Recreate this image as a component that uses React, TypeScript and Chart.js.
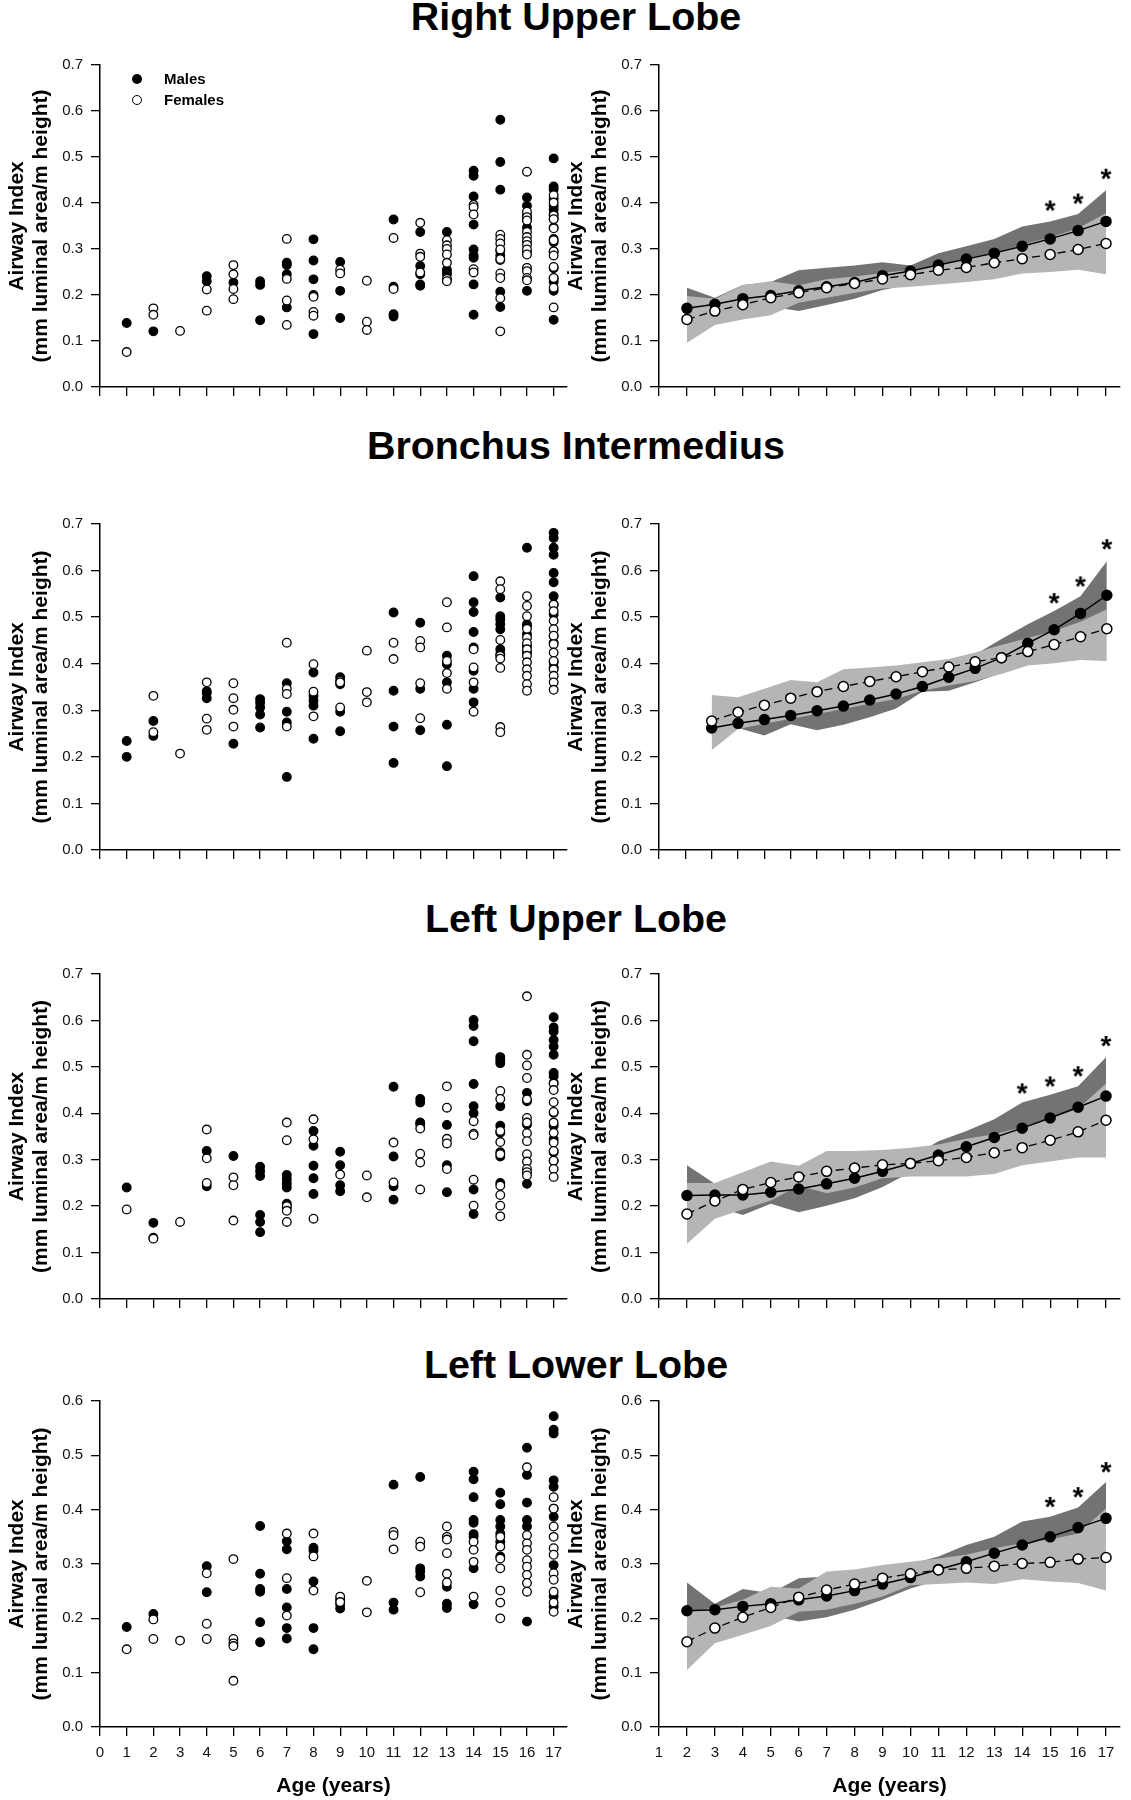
import React, { useEffect, useRef } from 'react';
import { Chart, registerables } from 'chart.js';

Chart.register(...registerables);

const FONT = '"Liberation Sans", Arial, Helvetica, sans-serif';
const DARK = '#737373';
const LIGHT = '#b5b5b5';

// ---------- categories ----------
const SCATTER_AGES = [1, 2, 3, 4, 5, 6, 7, 8, 9, 10, 11, 12, 13, 14, 15, 16, 17];
const TREND_AGES = [2, 3, 4, 5, 6, 7, 8, 9, 10, 11, 12, 13, 14, 15, 16, 17];

// ---------- Right Upper Lobe : individual values per age (1..17) ----------
const RUL_M: number[][] = [
  [0.139], [0.121], [], [0.241, 0.23], [0.227], [0.23, 0.222, 0.145],
  [0.27, 0.265, 0.245, 0.173], [0.321, 0.275, 0.234, 0.2, 0.115], [0.272, 0.209, 0.15], [],
  [0.364, 0.218, 0.158, 0.153], [0.337, 0.263, 0.245, 0.223, 0.22], [0.337, 0.255, 0.248, 0.245, 0.232],
  [0.47, 0.459, 0.414, 0.353, 0.299, 0.286, 0.281, 0.223, 0.157],
  [0.581, 0.489, 0.429, 0.296, 0.286, 0.276, 0.207, 0.174],
  [0.412, 0.394, 0.373, 0.365, 0.347, 0.294, 0.209],
  [0.497, 0.436, 0.43, 0.409, 0.394, 0.386, 0.376, 0.365, 0.347, 0.322, 0.315, 0.294, 0.258, 0.236, 0.229, 0.209, 0.146],
];
const RUL_F: number[][] = [
  [0.076], [0.171, 0.157], [0.122], [0.212, 0.166], [0.265, 0.245, 0.213, 0.191], [],
  [0.322, 0.235, 0.188, 0.135], [0.196, 0.163, 0.155], [0.255, 0.247], [0.231, 0.142, 0.124],
  [0.324, 0.213], [0.357, 0.29, 0.283, 0.249], [0.319, 0.308, 0.3, 0.288, 0.27, 0.235, 0.23],
  [0.396, 0.391, 0.375, 0.256, 0.249],
  [0.331, 0.322, 0.312, 0.299, 0.278, 0.247, 0.237, 0.193, 0.121],
  [0.468, 0.381, 0.369, 0.362, 0.337, 0.326, 0.317, 0.309, 0.299, 0.288, 0.259, 0.252, 0.237, 0.232],
  [0.417, 0.401, 0.373, 0.365, 0.345, 0.319, 0.295, 0.286, 0.261, 0.237, 0.216, 0.173],
];
// ---------- Right Upper Lobe : fitted means and ranges (ages 2..17) ----------
const RUL_M_MEAN = [0.171, 0.18, 0.192, 0.199, 0.209, 0.218, 0.227, 0.242, 0.252, 0.265, 0.278, 0.291, 0.306, 0.322, 0.34, 0.36];
const RUL_F_MEAN = [0.147, 0.165, 0.179, 0.194, 0.205, 0.216, 0.225, 0.235, 0.244, 0.254, 0.26, 0.27, 0.279, 0.288, 0.299, 0.312];
const RUL_M_HI = [0.216, 0.194, 0.222, 0.228, 0.254, 0.259, 0.264, 0.271, 0.264, 0.291, 0.306, 0.322, 0.349, 0.36, 0.376, 0.428];
const RUL_M_LO = [0.14, 0.155, 0.165, 0.175, 0.165, 0.178, 0.192, 0.211, 0.223, 0.234, 0.245, 0.255, 0.273, 0.284, 0.306, 0.32];
const RUL_F_HI = [0.198, 0.192, 0.221, 0.23, 0.221, 0.234, 0.24, 0.248, 0.255, 0.266, 0.278, 0.29, 0.31, 0.325, 0.345, 0.378];
const RUL_F_LO = [0.096, 0.135, 0.147, 0.156, 0.183, 0.194, 0.205, 0.214, 0.218, 0.223, 0.228, 0.234, 0.247, 0.25, 0.255, 0.245];
const RUL_STAR_AGES = [15, 16, 17];
const RUL_STAR_Y = [0.399, 0.414, 0.468];

// ---------- Bronchus Intermedius ----------
const BI_M: number[][] = [
  [0.234, 0.2], [0.277, 0.245], [], [0.341, 0.337, 0.326], [0.228], [0.324, 0.316, 0.306, 0.291, 0.263],
  [0.358, 0.297, 0.274, 0.157], [0.381, 0.331, 0.321, 0.31, 0.239], [0.371, 0.356, 0.297, 0.255], [],
  [0.51, 0.342, 0.265, 0.187], [0.488, 0.346, 0.257], [0.417, 0.399, 0.36, 0.269, 0.18],
  [0.588, 0.532, 0.511, 0.468, 0.435, 0.385, 0.346, 0.317],
  [0.542, 0.502, 0.495, 0.485, 0.474, 0.431, 0.421],
  [0.649, 0.485, 0.481, 0.463, 0.438, 0.424],
  [0.681, 0.67, 0.649, 0.634, 0.595, 0.575, 0.545, 0.527, 0.506, 0.46, 0.445, 0.403, 0.392],
];
const BI_F: number[][] = [
  [], [0.331, 0.253], [0.207], [0.36, 0.282, 0.258], [0.358, 0.326, 0.301, 0.265], [],
  [0.445, 0.346, 0.335, 0.265], [0.399, 0.34, 0.287], [0.363, 0.36, 0.306], [0.428, 0.339, 0.317],
  [0.445, 0.41], [0.449, 0.435, 0.358, 0.283], [0.532, 0.478, 0.406, 0.38, 0.346],
  [0.431, 0.392, 0.36, 0.297],
  [0.577, 0.56, 0.451, 0.417, 0.411, 0.391, 0.264, 0.253],
  [0.545, 0.524, 0.502, 0.475, 0.456, 0.444, 0.431, 0.417, 0.403, 0.388, 0.374, 0.356, 0.342],
  [0.527, 0.513, 0.492, 0.474, 0.46, 0.442, 0.424, 0.406, 0.388, 0.374, 0.36, 0.344],
];
const BI_M_MEAN = [0.262, 0.272, 0.28, 0.289, 0.299, 0.309, 0.322, 0.335, 0.351, 0.371, 0.39, 0.413, 0.444, 0.473, 0.508, 0.547];
const BI_F_MEAN = [0.277, 0.296, 0.311, 0.326, 0.34, 0.351, 0.362, 0.372, 0.383, 0.393, 0.404, 0.413, 0.426, 0.441, 0.458, 0.475];
const BI_M_HI = [0.3, 0.29, 0.3, 0.31, 0.325, 0.335, 0.345, 0.36, 0.375, 0.395, 0.42, 0.453, 0.485, 0.513, 0.545, 0.62];
const BI_M_LO = [0.24, 0.262, 0.246, 0.27, 0.257, 0.269, 0.285, 0.304, 0.34, 0.342, 0.36, 0.38, 0.41, 0.44, 0.47, 0.49];
const BI_F_HI = [0.333, 0.328, 0.346, 0.365, 0.36, 0.388, 0.392, 0.396, 0.403, 0.41, 0.424, 0.44, 0.455, 0.47, 0.49, 0.517];
const BI_F_LO = [0.214, 0.26, 0.271, 0.282, 0.292, 0.303, 0.314, 0.324, 0.342, 0.353, 0.363, 0.378, 0.396, 0.401, 0.408, 0.406];
const BI_STAR_AGES = [15, 16, 17];
const BI_STAR_Y = [0.545, 0.581, 0.661];

// ---------- Left Upper Lobe ----------
const LUL_M: number[][] = [
  [0.24], [0.164], [], [0.319, 0.243], [0.308], [0.285, 0.275, 0.265, 0.181, 0.166, 0.144],
  [0.267, 0.258, 0.249, 0.24, 0.205, 0.197], [0.362, 0.33, 0.287, 0.26, 0.226], [0.317, 0.288, 0.245, 0.232], [],
  [0.457, 0.307, 0.243, 0.214], [0.431, 0.423, 0.38, 0.376], [0.375, 0.288, 0.23],
  [0.601, 0.588, 0.555, 0.463, 0.415, 0.4, 0.236, 0.183],
  [0.521, 0.514, 0.508, 0.415, 0.373, 0.358, 0.316, 0.307, 0.25],
  [0.444, 0.426, 0.376, 0.248],
  [0.607, 0.585, 0.576, 0.558, 0.544, 0.526, 0.487, 0.48, 0.465, 0.401, 0.373, 0.344, 0.316, 0.298],
];
const LUL_F: number[][] = [
  [0.193], [0.132, 0.13], [0.166], [0.365, 0.303, 0.25], [0.262, 0.245, 0.169], [],
  [0.38, 0.342, 0.2, 0.19, 0.166], [0.387, 0.344, 0.173], [0.268], [0.266, 0.219],
  [0.337, 0.251], [0.367, 0.313, 0.294, 0.236], [0.458, 0.412, 0.345, 0.335, 0.28],
  [0.383, 0.356, 0.353, 0.257, 0.201],
  [0.448, 0.431, 0.362, 0.338, 0.312, 0.244, 0.224, 0.201, 0.178],
  [0.652, 0.526, 0.503, 0.476, 0.43, 0.39, 0.38, 0.357, 0.34, 0.312, 0.296, 0.28, 0.273, 0.266],
  [0.464, 0.45, 0.424, 0.403, 0.38, 0.358, 0.337, 0.319, 0.298, 0.28, 0.263],
];
const LUL_M_MEAN = [0.223, 0.224, 0.224, 0.23, 0.237, 0.248, 0.26, 0.275, 0.292, 0.31, 0.328, 0.348, 0.368, 0.39, 0.413, 0.437];
const LUL_F_MEAN = [0.183, 0.211, 0.236, 0.251, 0.263, 0.275, 0.282, 0.289, 0.292, 0.298, 0.305, 0.315, 0.326, 0.342, 0.36, 0.385];
const LUL_M_HI = [0.288, 0.248, 0.25, 0.26, 0.265, 0.27, 0.28, 0.29, 0.305, 0.34, 0.362, 0.387, 0.423, 0.44, 0.458, 0.521];
const LUL_M_LO = [0.2, 0.2, 0.181, 0.205, 0.187, 0.201, 0.217, 0.241, 0.273, 0.29, 0.31, 0.325, 0.34, 0.36, 0.37, 0.38];
const LUL_F_HI = [0.25, 0.25, 0.273, 0.296, 0.287, 0.319, 0.319, 0.321, 0.326, 0.333, 0.345, 0.355, 0.37, 0.39, 0.41, 0.464];
const LUL_F_LO = [0.119, 0.173, 0.193, 0.212, 0.244, 0.228, 0.24, 0.26, 0.264, 0.264, 0.264, 0.269, 0.288, 0.296, 0.305, 0.305];
const LUL_STAR_AGES = [14, 15, 16, 17];
const LUL_STAR_Y = [0.458, 0.473, 0.495, 0.56];

// ---------- Left Lower Lobe ----------
const LLL_M: number[][] = [
  [0.184], [0.208], [], [0.296, 0.248], [], [0.37, 0.282, 0.254, 0.249, 0.193, 0.156],
  [0.342, 0.327, 0.254, 0.22, 0.182, 0.163], [0.33, 0.325, 0.268, 0.182, 0.143], [0.234, 0.226, 0.218], [],
  [0.446, 0.229, 0.216], [0.46, 0.292, 0.286, 0.277], [0.258, 0.227, 0.219],
  [0.47, 0.456, 0.423, 0.381, 0.376, 0.355, 0.35, 0.292, 0.226],
  [0.431, 0.41, 0.381, 0.369, 0.356, 0.341, 0.332, 0.314],
  [0.514, 0.464, 0.413, 0.381, 0.369, 0.194],
  [0.572, 0.547, 0.54, 0.454, 0.442, 0.402, 0.387, 0.298, 0.24, 0.222],
];
const LLL_F: number[][] = [
  [0.143], [0.198, 0.162], [0.159], [0.283, 0.19, 0.162], [0.309, 0.162, 0.154, 0.149, 0.085], [],
  [0.356, 0.274, 0.205], [0.356, 0.314, 0.251], [0.24, 0.23], [0.269, 0.211],
  [0.359, 0.353, 0.327], [0.341, 0.332, 0.248], [0.369, 0.35, 0.345, 0.32, 0.282, 0.266],
  [0.341, 0.326, 0.304, 0.24],
  [0.35, 0.332, 0.31, 0.292, 0.251, 0.229, 0.2],
  [0.478, 0.353, 0.338, 0.326, 0.307, 0.295, 0.28, 0.265, 0.249],
  [0.423, 0.402, 0.369, 0.35, 0.329, 0.317, 0.283, 0.271, 0.249, 0.229, 0.212],
];
const LLL_M_MEAN = [0.214, 0.216, 0.222, 0.227, 0.234, 0.241, 0.251, 0.263, 0.275, 0.29, 0.304, 0.32, 0.335, 0.35, 0.367, 0.384];
const LLL_F_MEAN = [0.157, 0.182, 0.202, 0.22, 0.239, 0.252, 0.263, 0.274, 0.282, 0.289, 0.292, 0.296, 0.301, 0.303, 0.309, 0.312];
const LLL_M_HI = [0.266, 0.227, 0.254, 0.246, 0.274, 0.277, 0.28, 0.29, 0.3, 0.314, 0.335, 0.35, 0.378, 0.387, 0.404, 0.451];
const LLL_M_LO = [0.17, 0.2, 0.19, 0.205, 0.194, 0.202, 0.216, 0.234, 0.255, 0.27, 0.28, 0.295, 0.305, 0.32, 0.33, 0.345];
const LLL_F_HI = [0.212, 0.22, 0.234, 0.258, 0.255, 0.286, 0.29, 0.298, 0.304, 0.31, 0.317, 0.329, 0.338, 0.345, 0.356, 0.402];
const LLL_F_LO = [0.105, 0.154, 0.17, 0.186, 0.212, 0.216, 0.227, 0.24, 0.261, 0.263, 0.266, 0.263, 0.272, 0.268, 0.265, 0.251];
const LLL_STAR_AGES = [15, 16, 17];
const LLL_STAR_Y = [0.418, 0.436, 0.482];

// ---------- helpers ----------
const scatterPoints = (groups: number[][]) =>
  groups.flatMap((vals, i) => vals.map((v) => ({ x: SCATTER_AGES[i], y: v })));
const xy = (xs: number[], ys: number[]) => xs.map((x, i) => ({ x, y: ys[i] }));

function makeStarImage() {
  const c = document.createElement('canvas');
  c.width = 28;
  c.height = 28;
  const ctx = c.getContext('2d')!;
  ctx.fillStyle = '#000';
  ctx.font = `bold 28px ${FONT}`;
  ctx.textAlign = 'center';
  ctx.textBaseline = 'alphabetic';
  ctx.fillText('*', 14, 14 + 0.57 * 28);
  return c;
}

function xScale(min: number, showLabels: boolean) {
  return {
    type: 'linear',
    min,
    max: 17.5,
    ticks: {
      display: showLabels,
      stepSize: 1,
      includeBounds: false,
      autoSkip: false,
      maxRotation: 0,
      color: '#111',
      padding: 8,
      font: { family: FONT, size: 15 },
    },
    grid: { drawOnChartArea: false, drawTicks: true, tickLength: 9, color: '#000', lineWidth: 1.3 },
    border: { display: true, color: '#000', width: 1.5 },
    title: {
      display: showLabels,
      text: 'Age (years)',
      color: '#000',
      font: { family: FONT, size: 21, weight: 'bold', lineHeight: 1.15 },
      padding: { top: 0, bottom: 2 },
    },
    afterFit: (s: any) => {
      s.height = showLabels ? 73 : 15;
    },
  };
}

function yScale(max: number) {
  return {
    type: 'linear',
    min: 0,
    max,
    ticks: {
      stepSize: 0.1,
      color: '#111',
      padding: 8,
      font: { family: FONT, size: 15 },
      callback: (v: any) => Number(v).toFixed(1),
    },
    grid: { drawOnChartArea: false, drawTicks: true, tickLength: 9, color: '#000', lineWidth: 1.3 },
    border: { display: true, color: '#000', width: 1.5 },
    title: {
      display: true,
      text: ['Airway Index', '(mm luminal area/m height)'],
      color: '#000',
      font: { family: FONT, size: 21, weight: 'bold', lineHeight: 1.15 },
      padding: { top: 5, bottom: 0 },
    },
    afterFit: (s: any) => {
      s.width = 100;
    },
  };
}

function baseOptions(xMin: number, showX: boolean, yMax: number, padRight: number) {
  return {
    responsive: false,
    maintainAspectRatio: false,
    animation: false,
    devicePixelRatio: 1,
    events: [],
    layout: { padding: { top: 20, right: padRight, bottom: 0, left: 0 } },
    plugins: { legend: { display: false }, tooltip: { enabled: false } },
    scales: { x: xScale(xMin, showX), y: yScale(yMax) },
  };
}

function scatterConfig(m: number[][], f: number[][], yMax: number, showX: boolean) {
  return {
    type: 'scatter',
    data: {
      datasets: [
        {
          label: 'Females',
          data: scatterPoints(f),
          pointRadius: 4.3,
          pointBorderWidth: 1.3,
          pointBackgroundColor: '#fff',
          pointBorderColor: '#000',
          order: 1,
        },
        {
          label: 'Males',
          data: scatterPoints(m),
          pointRadius: 4.3,
          pointBorderWidth: 1.3,
          pointBackgroundColor: '#000',
          pointBorderColor: '#000',
          order: 2,
        },
      ],
    },
    options: baseOptions(0, showX, yMax, 13),
  };
}

function trendConfig(
  xMin: number,
  mMean: number[],
  fMean: number[],
  mHi: number[],
  mLo: number[],
  fHi: number[],
  fLo: number[],
  starAges: number[],
  starY: number[],
  yMax: number,
  showX: boolean,
) {
  const band = (data: number[], fill: any, color: string, order: number) => ({
    data: xy(TREND_AGES, data),
    fill,
    backgroundColor: color,
    borderColor: 'rgba(0,0,0,0)',
    borderWidth: 0,
    pointRadius: 0,
    tension: 0,
    order,
  });
  return {
    type: 'line',
    data: {
      datasets: [
        band(mHi, '+1', DARK, 6),
        band(mLo, false, DARK, 6),
        band(fHi, '+1', LIGHT, 5),
        band(fLo, false, LIGHT, 5),
        {
          label: 'Males',
          data: xy(TREND_AGES, mMean),
          borderColor: '#000',
          borderWidth: 1.5,
          fill: false,
          tension: 0,
          pointRadius: 5,
          pointBorderWidth: 1.5,
          pointBackgroundColor: '#000',
          pointBorderColor: '#000',
          order: 2,
        },
        {
          label: 'Females',
          data: xy(TREND_AGES, fMean),
          borderColor: '#000',
          borderWidth: 1.3,
          borderDash: [8, 5],
          fill: false,
          tension: 0,
          pointRadius: 5,
          pointBorderWidth: 1.5,
          pointBackgroundColor: '#fff',
          pointBorderColor: '#000',
          order: 1,
        },
        {
          label: 'significant',
          data: xy(starAges, starY),
          showLine: false,
          fill: false,
          pointStyle: makeStarImage(),
          pointRadius: 10,
          order: 0,
        },
      ],
    },
    options: baseOptions(xMin, showX, yMax, 5),
  };
}

function Panel({ left, top, width, height, make }: { left: number; top: number; width: number; height: number; make: () => any }) {
  const ref = useRef<HTMLCanvasElement>(null);
  useEffect(() => {
    const chart = new Chart(ref.current as HTMLCanvasElement, make());
    return () => chart.destroy();
  }, []);
  return (
    <canvas
      ref={ref}
      width={width}
      height={height}
      style={{ position: 'absolute', left, top, width, height, display: 'block' }}
    />
  );
}

const ROWS = [
  { title: 'Right Upper Lobe', titleTop: -3, top: 45, height: 359 },
  { title: 'Bronchus Intermedius', titleTop: 426, top: 504, height: 363 },
  { title: 'Left Upper Lobe', titleTop: 899, top: 954, height: 362 },
  { title: 'Left Lower Lobe', titleTop: 1345, top: 1381, height: 419 },
];

export default function App() {
  const titleStyle = (top: number): React.CSSProperties => ({
    position: 'absolute',
    left: 276,
    width: 600,
    top,
    textAlign: 'center',
    fontFamily: FONT,
    fontWeight: 'bold',
    fontSize: 39.4,
    lineHeight: '38px',
    color: '#000',
    whiteSpace: 'nowrap',
  });
  const legendText = (top: number): React.CSSProperties => ({
    position: 'absolute',
    left: 164,
    top,
    fontFamily: FONT,
    fontWeight: 'bold',
    fontSize: 15,
    lineHeight: '18px',
    color: '#000',
  });
  return (
    <div style={{ position: 'absolute', left: 0, top: 0, width: 1131, height: 1800, background: '#fff', overflow: 'hidden' }}>
      {ROWS.map((r) => (
        <div key={r.title} style={titleStyle(r.titleTop)}>
          {r.title}
        </div>
      ))}

      <Panel left={0} top={ROWS[0].top} width={580} height={ROWS[0].height} make={() => scatterConfig(RUL_M, RUL_F, 0.7, false)} />
      <Panel
        left={559}
        top={ROWS[0].top}
        width={572}
        height={ROWS[0].height}
        make={() => trendConfig(1, RUL_M_MEAN, RUL_F_MEAN, RUL_M_HI, RUL_M_LO, RUL_F_HI, RUL_F_LO, RUL_STAR_AGES, RUL_STAR_Y, 0.7, false)}
      />

      <Panel left={0} top={ROWS[1].top} width={580} height={ROWS[1].height} make={() => scatterConfig(BI_M, BI_F, 0.7, false)} />
      <Panel
        left={559}
        top={ROWS[1].top}
        width={572}
        height={ROWS[1].height}
        make={() => trendConfig(0, BI_M_MEAN, BI_F_MEAN, BI_M_HI, BI_M_LO, BI_F_HI, BI_F_LO, BI_STAR_AGES, BI_STAR_Y, 0.7, false)}
      />

      <Panel left={0} top={ROWS[2].top} width={580} height={ROWS[2].height} make={() => scatterConfig(LUL_M, LUL_F, 0.7, false)} />
      <Panel
        left={559}
        top={ROWS[2].top}
        width={572}
        height={ROWS[2].height}
        make={() => trendConfig(1, LUL_M_MEAN, LUL_F_MEAN, LUL_M_HI, LUL_M_LO, LUL_F_HI, LUL_F_LO, LUL_STAR_AGES, LUL_STAR_Y, 0.7, false)}
      />

      <Panel left={0} top={ROWS[3].top} width={580} height={ROWS[3].height} make={() => scatterConfig(LLL_M, LLL_F, 0.6, true)} />
      <Panel
        left={559}
        top={ROWS[3].top}
        width={572}
        height={ROWS[3].height}
        make={() => trendConfig(1, LLL_M_MEAN, LLL_F_MEAN, LLL_M_HI, LLL_M_LO, LLL_F_HI, LLL_F_LO, LLL_STAR_AGES, LLL_STAR_Y, 0.6, true)}
      />

      {/* legend (first scatter panel) */}
      <div style={{ position: 'absolute', left: 132, top: 74, width: 10, height: 10, borderRadius: '50%', background: '#000' }} />
      <div style={legendText(70)}>Males</div>
      <div
        style={{
          position: 'absolute',
          left: 132,
          top: 95,
          width: 10,
          height: 10,
          borderRadius: '50%',
          background: '#fff',
          border: '1.3px solid #000',
          boxSizing: 'border-box',
        }}
      />
      <div style={legendText(91)}>Females</div>
    </div>
  );
}
